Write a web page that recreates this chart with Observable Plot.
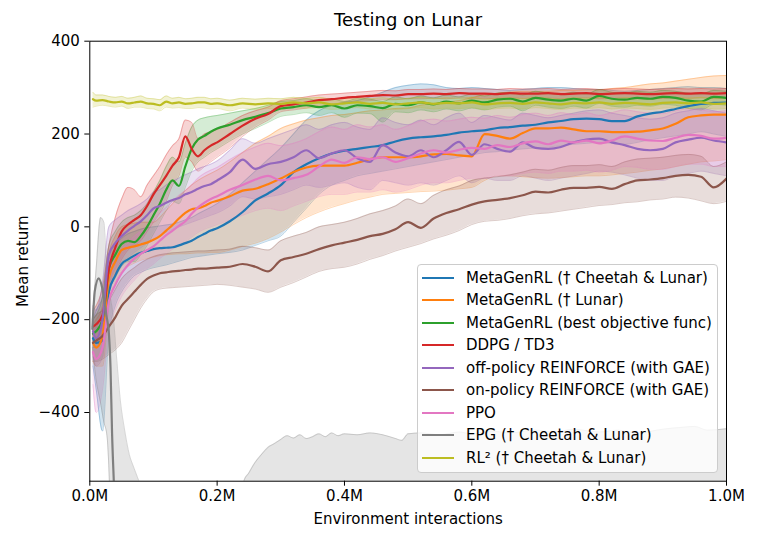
<!DOCTYPE html>
<html><head><meta charset="utf-8">
<script src="https://cdn.jsdelivr.net/npm/d3@7"></script>
<script src="https://cdn.jsdelivr.net/npm/@observablehq/plot@0.6"></script>
<style>
body{margin:0;background:#fff;font-family:"DejaVu Sans",sans-serif;}
#wrap{position:relative;width:761px;height:544px;}
#legend{position:absolute;left:417px;top:264px;width:301px;height:209px;border:1px solid #cccccc;border-radius:4px;background:rgba(255,255,255,0.8);box-sizing:border-box;}
.row{position:absolute;left:4px;height:22px;display:flex;align-items:center;font-size:15px;white-space:nowrap;color:#000;}
.sw{width:32px;height:2px;margin-right:12px;}
</style></head>
<body><div id="wrap"></div>
<script>
const G = [0.005,0.01,0.02,0.03,0.04,0.05,0.06,0.07,0.08,0.09,0.10,
0.11,0.12,0.13,0.14,0.15,0.16,0.17,0.18,0.19,0.20,
0.22,0.24,0.26,0.28,0.30,0.32,0.34,0.36,0.38,0.40,0.42,0.44,0.46,0.48,0.50,0.52,0.54,0.56,0.58,0.60,
0.62,0.64,0.66,0.68,0.70,0.72,0.74,0.76,0.78,0.80,0.82,0.84,0.86,0.88,0.90,0.92,0.94,0.96,0.98,1.00];

const blueMean = [-240,-250,-245,-140,-105,-80,-70,-62,-56,-52,-48, -46,-45,-44,-40,-35,-30,-22,-15,-8,-3,
12,32,57,72,90,118,135,148,158,164, 168,172,176,184,190,193,195,198,203,206, 208,213,215,218,220,225,228,232,233,232, 228,228,238,244,248,254,260,265,267,268];
const blueLo = [-300,-350,-440,-230,-170,-140,-120,-105,-98,-92,-88, -85,-82,-78,-74,-70,-66,-64,-62,-60,-58,
-55,-50,-40,-30,-20,10,40,70,90,100, 110,115,120,125,130,135,140,145,150,155, 160,162,165,168,170,172,175,178,180,182, 180,178,182,188,192,196,200,205,200,195];
const blueHi = [-200,-180,-150,-60,-40,-25,-15,-10,-5,-2,0, 2,4,6,10,15,20,28,35,42,50,
70,95,120,145,170,200,230,250,262,268, 272,280,290,300,305,308,306,300,298,300, 298,296,294,296,298,300,300,298,296,296, 294,292,294,296,298,300,302,300,300,298];

const orangeMean = [-250,-260,-235,-110,-75,-50,-45,-42,-38,-34,-28, -20,-8,4,18,30,38,40,45,52,56,
66,78,82,92,104,118,128,132,132,132, 138,146,150,150,150,152,156,157,154,152, 200,196,190,202,212,212,214,210,206,206, 204,204,205,208,212,222,236,240,242,242];
const orangeLo = [-290,-300,-300,-170,-120,-95,-85,-78,-72,-68,-65, -62,-60,-59,-58,-58,-57,-56,-56,-55,-55,
-50,-42,-35,-25,-11,5,20,32,42,50, 58,64,70,72,74,76,77,79,82,85, 100,110,110,108,106,105,106,108,110,110, 112,115,118,122,125,130,135,140,142,145];
const orangeHi = [-210,-200,-170,-60,-20,0,5,8,10,10,10, 20,35,50,65,78,90,100,108,115,122,
140,160,180,195,212,222,230,235,240,242, 246,250,252,255,256,262,266,268,272,278, 285,288,290,292,292,292,294,294,295,295, 298,300,304,308,310,314,318,322,325,326];

const greenMean = [-230,-225,-200,-90,-60,-37,-30,-33,-20,0,25, 50,80,100,88,130,168,188,196,205,212,
220,230,237,245,255,258,262,258,262,255, 262,260,256,265,262,268,264,270,266,272, 268,274,276,270,278,274,272,276,272,282, 276,274,278,276,280,278,272,270,280,278];
const greenLo = [-260,-260,-240,-140,-110,-85,-75,-75,-60,-40,-15, 10,35,55,50,85,120,140,150,160,168,
185,200,212,225,238,242,246,240,246,236, 245,244,226,248,246,252,248,254,250,256, 252,258,260,250,262,258,255,260,256,266, 260,258,262,260,264,262,255,252,264,262];
const greenHi = [-200,-190,-150,-40,-10,10,20,25,35,50,75, 100,130,150,140,180,215,230,235,238,240,
245,250,255,262,270,272,276,272,276,270, 276,275,270,280,276,282,278,284,280,286, 282,288,290,284,292,288,286,290,286,296, 290,288,292,290,294,292,288,286,294,292];

const redMean = [-215,-210,-190,-90,-45,-10,5,15,25,45,70, 90,110,132,150,195,168,152,165,175,182,
200,218,233,243,260,264,268,273,275,278, 280,282,284,283,286,286,287,286,288,287, 287,286,288,287,287,288,286,287,288,286, 287,288,287,286,287,288,287,288,287,288];
const redLo = [-250,-250,-230,-140,-100,-70,-50,-40,-30,-10,10, 30,55,90,110,150,140,120,130,140,150,
170,195,215,230,248,252,256,262,265,268, 270,272,274,274,276,276,277,276,278,277, 277,276,278,277,277,278,276,277,278,276, 277,278,277,276,277,278,277,278,277,278];
const redHi = [-180,-170,-130,-40,20,60,85,80,65,90,110, 130,155,175,190,230,225,190,200,205,210,
225,240,250,258,272,276,280,284,286,288, 290,292,294,293,296,296,297,296,298,297, 297,296,298,297,297,298,296,297,298,296, 297,298,297,296,297,298,297,298,297,298];

const purpleMean = [-225,-240,-200,-60,-35,-20,-8,2,12,25,40, 45,52,58,62,70,75,82,88,92,100,
118,145,125,135,140,150,165,148,158,165, 148,140,176,160,152,165,150,165,183,155, 178,168,162,182,170,168,172,182,188,190, 182,176,168,165,168,182,188,192,186,182];
const purpleLo = [-280,-300,-280,-130,-90,-75,-65,-55,-45,-35,-25, -20,-12,-5,0,5,10,15,20,25,30,
45,65,60,65,70,80,90,85,90,95, 85,80,100,95,90,95,90,100,110,95, 105,100,100,110,105,100,105,110,115,120, 118,112,105,100,100,110,115,120,115,110];
const purpleHi = [-170,-180,-120,0,15,25,35,42,50,60,75, 80,90,98,105,112,118,125,130,135,142,
165,190,180,190,200,210,220,210,220,225, 215,210,235,225,220,230,220,235,245,225, 240,235,230,245,240,235,240,245,250,252, 245,240,235,232,235,245,250,255,250,245];

const brownMean = [-250,-245,-235,-215,-195,-170,-155,-140,-125,-112,-105, -100,-98,-96,-95,-93,-92,-90,-90,-89,-88,
-86,-80,-86,-96,-72,-65,-58,-48,-40,-34, -28,-20,-15,-5,10,-2,18,30,38,48, 55,58,62,68,76,74,80,84,84,86, 82,92,100,102,105,110,112,108,85,104];
const brownLo = [-290,-290,-285,-275,-265,-250,-225,-200,-175,-155,-140, -134,-132,-131,-130,-129,-128,-127,-126,-125,-124,
-126,-130,-134,-141,-130,-120,-108,-96,-90,-87, -80,-70,-62,-52,-44,-36,-26,-18,-8,5, 12,14,18,24,28,30,34,38,42,46, 48,52,54,58,60,64,62,56,50,55];
const brownHi = [-200,-190,-180,-160,-135,-112,-98,-88,-78,-70,-64, -60,-58,-56,-55,-54,-53,-52,-52,-51,-50,
-48,-42,-45,-50,-30,-20,-12,0,5,10, 18,28,35,45,60,50,68,80,88,100, 105,108,112,118,124,122,128,132,132,134, 130,140,146,148,150,154,156,152,130,140];

const pinkMean = [-270,-285,-260,-160,-125,-100,-82,-68,-58,-50,-42, -30,-18,-8,2,12,28,42,52,60,66,
80,90,102,110,100,105,112,130,145,138, 150,146,150,140,148,158,165,160,166,170, 168,176,172,180,184,178,186,182,186,180, 186,195,190,186,185,192,198,196,190,192];
const pinkLo = [-340,-400,-350,-220,-180,-150,-130,-115,-100,-90,-80, -68,-58,-48,-40,-32,-22,-12,-5,0,5,
15,25,35,40,35,45,55,65,70,70, 75,75,80,75,80,90,95,95,100,105, 105,110,110,115,118,115,120,120,122,118, 122,130,128,124,124,130,135,135,130,130];
const pinkHi = [-220,-220,-180,-100,-70,-50,-35,-20,-10,0,15, 30,42,55,68,78,90,105,115,122,128,
145,160,172,180,175,180,190,205,215,210, 220,215,220,210,218,228,232,228,232,236, 234,240,236,242,245,240,246,242,246,240, 246,252,248,245,244,250,254,252,248,250];

const rl2Mean = [275,272,273,270,268,270,266,268,270,266,265, 262,270,266,268,265,266,268,268,265,266,
262,266,264,266,265,268,266,268,264,266, 268,265,267,264,266,268,265,267,266,268, 264,266,267,265,268,266,264,267,266,268, 265,267,266,264,267,268,266,268,265,266];
const rl2Lo = [258,260,262,260,258,260,255,258,258,255,254, 250,258,256,257,255,255,257,256,254,255,
250,256,253,255,254,257,255,257,253,255, 257,254,256,253,255,257,254,256,255,257, 253,255,256,254,257,255,253,256,255,257, 254,256,255,253,256,257,255,257,254,255];
const rl2Hi = [290,284,284,281,279,281,277,279,282,277,276, 274,282,277,279,276,277,279,279,276,277,
273,277,275,277,276,279,277,279,275,277, 279,276,278,275,277,279,276,278,277,279, 275,277,278,276,279,277,275,278,277,279, 276,278,277,275,278,279,277,279,276,277];

// EPG: own grid
const epgX = [0.004,0.008,0.014,0.02,0.026,0.03,0.0325,0.035,0.0377,0.042];
const epgMean = [-220,-137,-111,-135,-190,-230,-302,-446,-548,-700];
const epgBandX = [0.004,0.01,0.017,0.022,0.027,0.032,0.037,0.042,0.048,0.055,0.062,0.069,0.075,0.08,0.09,
0.23,0.242,0.25,0.258,0.27,0.28,0.29,0.30,0.31,0.32, 0.33,0.34,0.35,0.36,0.37,0.38,0.39,0.40,0.42,0.44,
0.46,0.48,0.49,0.50,0.52,0.55,0.58,0.60,0.63,0.66, 0.70,0.73,0.76,0.80,0.83,0.86,0.90,0.93,0.95,0.97,1.00];
const epgHi = [-200,-90,20,10,-100,-150,-195,-280,-374,-440,-490,-518,-540,-560,-700,
-700,-548,-530,-511,-490,-475,-467,-458,-450,-455, -448,-456,-452,-446,-452,-444,-450,-446,-448,-444,
-448,-456,-460,-446,-444,-448,-442,-446,-440,-444, -438,-442,-436,-442,-438,-444,-436,-432,-430,-438,-435];
const epgLo = [-260,-330,-380,-420,-450,-600,-900,-900,-900,-900,-900,-900,-900,-900,-900,
-900,-900,-900,-900,-900,-900,-900,-900,-900,-900, -900,-900,-900,-900,-900,-900,-900,-900,-900,-900,
-900,-900,-900,-900,-900,-900,-900,-900,-900,-900, -900,-900,-900,-900,-900,-900,-900,-900,-900,-900,-900];

const xTicks = [0, 0.2, 0.4, 0.6, 0.8, 1.0];
const xTickLabels = ["0.0M","0.2M","0.4M","0.6M","0.8M","1.0M"];
const yTicks = [-400, -200, 0, 200, 400];
const yTickLabels = ["\u2212400","\u2212200","0","200","400"];

const series = [
  {name:"MetaGenRL (\u2020 Cheetah & Lunar)", color:"#1f77b4", x:G, m:blueMean, lo:blueLo, hi:blueHi},
  {name:"MetaGenRL (\u2020 Lunar)", color:"#ff7f0e", x:G, m:orangeMean, lo:orangeLo, hi:orangeHi},
  {name:"MetaGenRL (best objective func)", color:"#2ca02c", x:G, m:greenMean, lo:greenLo, hi:greenHi},
  {name:"DDPG / TD3", color:"#d62728", x:G, m:redMean, lo:redLo, hi:redHi},
  {name:"off-policy REINFORCE (with GAE)", color:"#9467bd", x:G, m:purpleMean, lo:purpleLo, hi:purpleHi},
  {name:"on-policy REINFORCE (with GAE)", color:"#8c564b", x:G, m:brownMean, lo:brownLo, hi:brownHi},
  {name:"PPO", color:"#e377c2", x:G, m:pinkMean, lo:pinkLo, hi:pinkHi},
  {name:"EPG (\u2020 Cheetah & Lunar)", color:"#7f7f7f", x:epgX, m:epgMean, bx:epgBandX, lo:epgLo, hi:epgHi},
  {name:"RL\u00b2 (\u2020 Cheetah & Lunar)", color:"#bcbd22", x:G, m:rl2Mean, lo:rl2Lo, hi:rl2Hi}
];

const bandMarks = [], lineMarks = [];
for (const s of series) {
  const bx = s.bx || s.x;
  const band = bx.map((x, i) => ({x, lo: s.lo[i], hi: s.hi[i]}));
  const line = s.x.map((x, i) => ({x, y: s.m[i]}));
  bandMarks.push(Plot.areaY(band, {x:"x", y1:"lo", y2:"hi", fill:s.color, fillOpacity:0.2, curve:"monotone-x", clip:true}));
  bandMarks.push(Plot.lineY(band, {x:"x", y:"lo", stroke:s.color, strokeOpacity:0.3, strokeWidth:1, curve:"monotone-x", clip:true}));
  bandMarks.push(Plot.lineY(band, {x:"x", y:"hi", stroke:s.color, strokeOpacity:0.3, strokeWidth:1, curve:"monotone-x", clip:true}));
  lineMarks.push(Plot.lineY(line, {x:"x", y:"y", stroke:s.color, strokeWidth:2.2, curve:"monotone-x", clip:true}));
}
const marks = [...bandMarks, ...lineMarks];
marks.push(Plot.frame({stroke:"#000", strokeWidth:1}));
marks.push(Plot.axisX({ticks:xTicks, tickFormat:(d,i)=>xTickLabels[i], tickSize:5, tickPadding:4, label:null}));
marks.push(Plot.axisY({ticks:yTicks, tickFormat:(d,i)=>yTickLabels[i], tickSize:5, tickPadding:5, label:null}));
marks.push(Plot.text(["Testing on Lunar"], {text:d=>d, frameAnchor:"top", dy:-20.5, lineAnchor:"middle", textAnchor:"middle", fontSize:18}));
marks.push(Plot.text(["Environment interactions"], {text:d=>d, frameAnchor:"bottom", dy:38, lineAnchor:"middle", textAnchor:"middle", fontSize:15}));
marks.push(Plot.text(["Mean return"], {text:d=>d, frameAnchor:"left", dx:-67, rotate:-90, lineAnchor:"middle", textAnchor:"middle", fontSize:15}));

const chart = Plot.plot({
  width:761, height:544,
  marginLeft:89.3, marginRight:35, marginTop:40.7, marginBottom:63.3,
  x:{domain:[0,1]},
  y:{domain:[-548,400]},
  style:{fontFamily:"DejaVu Sans", fontSize:"15px", background:"#fff", color:"#000", overflow:"visible"},
  marks
});
const wrap = document.getElementById("wrap");
wrap.appendChild(chart);

const leg = document.createElement("div");
leg.id = "legend";
series.forEach((s, i) => {
  const r = document.createElement("div");
  r.className = "row";
  r.style.top = (1.7 + 22.5 * i) + "px";
  const sw = document.createElement("span");
  sw.className = "sw"; sw.style.background = s.color;
  const t = document.createElement("span");
  t.textContent = s.name;
  r.appendChild(sw); r.appendChild(t);
  leg.appendChild(r);
});
wrap.appendChild(leg);
</script>
</body></html>
